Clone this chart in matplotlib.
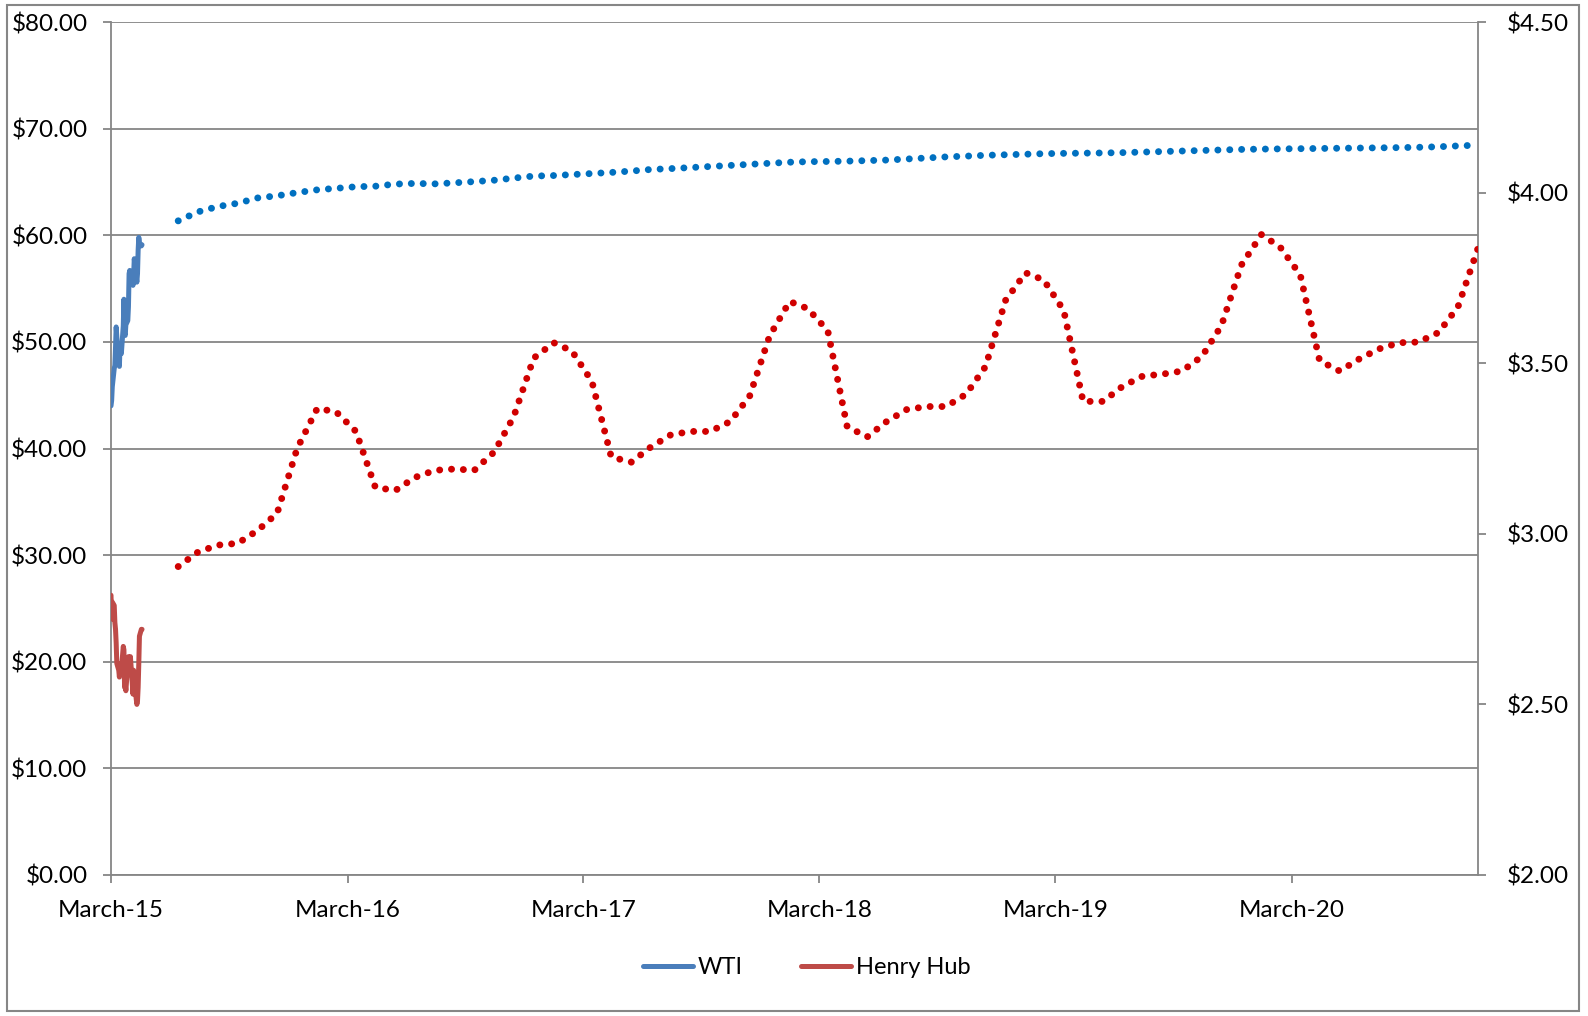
import matplotlib
matplotlib.use("Agg")
import matplotlib.pyplot as plt
from matplotlib.patches import Rectangle
import pandas as pd

plt.rcParams['font.family'] = ['Lato', 'DejaVu Sans']

# Daily spot prices, March-May 2015 (business days)
spot_start = "2015-03-18"
wti_spot = [44.0, 44.5, 45.8, 47.5, 47.8, 49.5, 51.4, 50.5, 48.0, 47.7,
            49.8, 48.9, 48.9, 51.5, 54.0, 50.8, 50.6, 51.6, 52.0, 53.3,
            56.4, 56.7, 55.7, 56.4, 55.3, 56.2, 57.8, 57.2, 55.6, 56.4,
            58.6, 59.8, 59.3, 59.0, 59.1]
hh_spot = [2.82, 2.75, 2.80, 2.79, 2.74, 2.72, 2.68, 2.62, 2.60, 2.58,
           2.62, 2.60, 2.60, 2.67, 2.66, 2.55, 2.56, 2.54, 2.62, 2.64,
           2.60, 2.62, 2.64, 2.56, 2.53, 2.60, 2.59, 2.55, 2.50, 2.51,
           2.55, 2.62, 2.70, 2.72, 2.72]

# Monthly futures strip, June 2015 - December 2020 (month-end dates)
fut_first_month = "2015-07-01"
wti_fut = [61.35, 62.2, 62.7, 63.0, 63.5, 63.7, 64.0, 64.26, 64.4, 64.55,
           64.6, 64.8, 64.86, 64.82, 64.92, 65.03, 65.16, 65.36, 65.55, 65.6,
           65.69, 65.79, 65.89, 66.02, 66.17, 66.25, 66.35, 66.45, 66.55, 66.65,
           66.75, 66.85, 66.9, 66.92, 66.95, 67.0, 67.05, 67.15, 67.25, 67.35,
           67.42, 67.5, 67.55, 67.6, 67.65, 67.68, 67.7, 67.72, 67.75, 67.8,
           67.85, 67.9, 67.95, 68.0, 68.05, 68.08, 68.1, 68.12, 68.14, 68.16,
           68.18, 68.2, 68.22, 68.25, 68.3, 68.38, 68.45]
hh_fut = [2.904, 2.947, 2.967, 2.972, 3.01, 3.06, 3.25, 3.367, 3.358, 3.30,
          3.136, 3.127, 3.165, 3.186, 3.19, 3.186, 3.24, 3.343, 3.515, 3.56,
          3.536, 3.447, 3.225, 3.21, 3.254, 3.29, 3.30, 3.30, 3.329, 3.403,
          3.58, 3.681, 3.66, 3.595, 3.314, 3.284, 3.329, 3.364, 3.373, 3.373,
          3.409, 3.49, 3.684, 3.765, 3.744, 3.655, 3.388, 3.388, 3.432, 3.462,
          3.468, 3.477, 3.52, 3.61, 3.788, 3.877, 3.84, 3.759, 3.507, 3.477,
          3.512, 3.542, 3.56, 3.562, 3.59, 3.665, 3.837]

left_ticks = [0, 10, 20, 30, 40, 50, 60, 70, 80]
right_ticks = [2.00, 2.50, 3.00, 3.50, 4.00, 4.50]
series_names = ["WTI", "Henry Hub"]

spot_dates = pd.bdate_range(spot_start, periods=len(wti_spot))
fut_dates = pd.date_range(fut_first_month, periods=len(wti_fut), freq="MS") - pd.Timedelta(days=1)
x_start = pd.Timestamp(spot_start)
x_end = fut_dates[-1]
year_ticks = [x_start + pd.DateOffset(years=k) for k in range(6)]

grey = "#868686"
fs = 17.5
W, H = 1588, 1016
fig = plt.figure(figsize=(W / 100, H / 100), dpi=100)
ax = fig.add_axes([111 / W, 1 - 875 / H, (1478 - 111) / W, (875 - 22) / H])
ax2 = ax.twinx()

dot_style = (0, (0.01, 1.7))
l_wti, = ax.plot(spot_dates, wti_spot, color="#4A7EBB", lw=3.6,
                 solid_joinstyle="round", solid_capstyle="round", label=series_names[0], zorder=3)
ax.plot(fut_dates, wti_fut, color="#0070C0", lw=5.0, linestyle=dot_style,
        dash_capstyle="round", zorder=3)
l_hh, = ax2.plot(spot_dates, hh_spot, color="#BE4B48", lw=3.6,
                 solid_joinstyle="round", solid_capstyle="round", label=series_names[1], zorder=3)
ax2.plot(fut_dates, hh_fut, color="#D00000", lw=5.0, linestyle=dot_style,
         dash_capstyle="round", zorder=3)

ax.set_xlim(x_start, x_end)
ax.set_ylim(0, 80)
ax2.set_ylim(2.0, 4.5)

ax.set_yticks(left_ticks)
ax.set_yticklabels([f"${v:.2f}" for v in left_ticks])
ax2.set_yticks(right_ticks)
ax2.set_yticklabels([f"${v:.2f}" for v in right_ticks])
ax.set_xticks(year_ticks)
ax.set_xticklabels([d.strftime("%B-%y") for d in year_ticks])

ax.grid(axis="y", color=grey, lw=1.3)
ax.set_axisbelow(True)

for a in (ax, ax2):
    for side in ("left", "right", "bottom"):
        a.spines[side].set_color(grey)
        a.spines[side].set_linewidth(1.3)
    a.spines["top"].set_visible(False)
ax.spines["right"].set_visible(False)
ax2.spines["left"].set_visible(False)
ax2.spines["bottom"].set_visible(False)

ax.tick_params(axis="y", length=6, width=1.3, color=grey, pad=11, labelsize=fs, labelcolor="black")
ax.tick_params(axis="x", length=6, width=1.3, color=grey, pad=12, labelsize=fs, labelcolor="black")
ax2.tick_params(axis="y", length=6, width=1.3, color=grey, pad=15, labelsize=fs, labelcolor="black")

fig.legend([l_wti, l_hh], series_names, loc="center", bbox_to_anchor=(0.508, 0.0475),
           ncol=2, frameon=False, handlelength=2.1, handletextpad=0.2,
           columnspacing=2.5, fontsize=17)

fig.add_artist(Rectangle((7 / W, 1 - 1011 / H), (1579 - 7) / W, (1011 - 5) / H,
                         transform=fig.transFigure, fill=False, ec=grey, lw=1.5))

fig.savefig("out.png", dpi=100, facecolor="white")
